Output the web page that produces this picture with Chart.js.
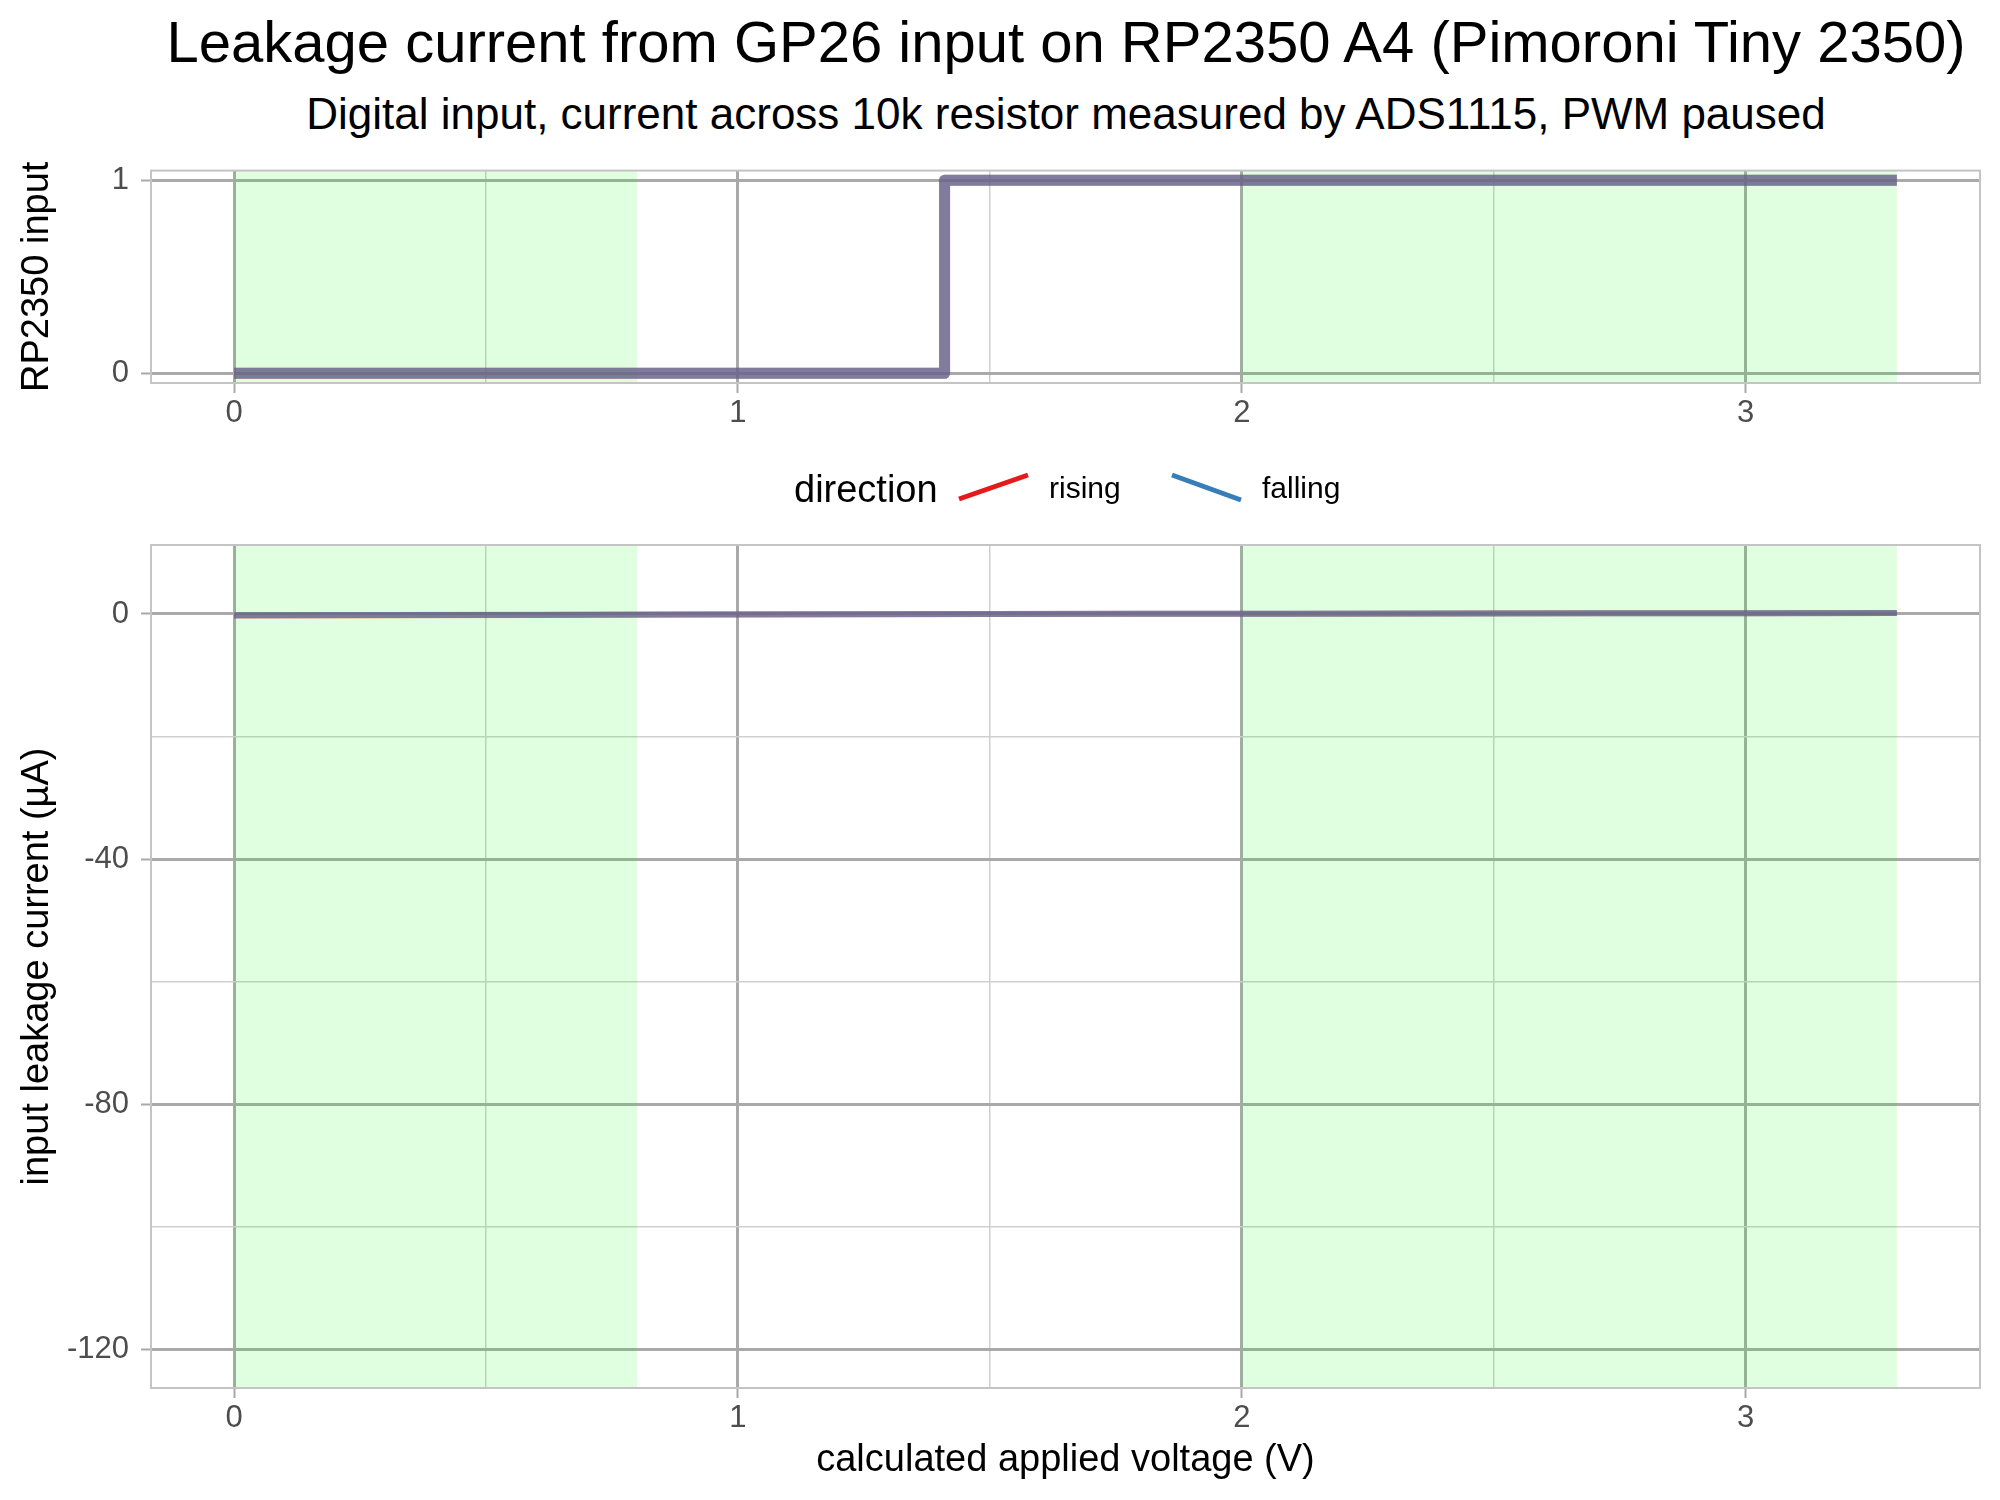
<!DOCTYPE html>
<html>
<head>
<meta charset="utf-8">
<title>Leakage current GP26 RP2350</title>
<script src="https://cdn.jsdelivr.net/npm/chart.js@4.4.1/dist/chart.umd.min.js"></script>
<style>
  body { margin: 0; background: #fff; font-family: "Liberation Sans", Arial, sans-serif; }
  #page { position: relative; width: 2000px; height: 1500px; overflow: hidden; }
  canvas { position: absolute; left: 0; }
  .txt { position: absolute; white-space: nowrap; color: #000; z-index: 2; }
  .key { position: absolute; z-index: 2; }
</style>
</head>
<body>
<div id="page">
  <div class="txt" style="left:152px; width:1828px; top:7px; font-size:58px; line-height:70px; text-align:center;">Leakage current from GP26 input on RP2350 A4 (Pimoroni Tiny 2350)</div>
  <div class="txt" style="left:152px; width:1828px; top:88px; font-size:44px; line-height:52px; text-align:center;">Digital input, current across 10k resistor measured by ADS1115, PWM paused</div>

  <canvas id="inputChart" width="2000" height="300" style="top:140px;"></canvas>
  <canvas id="leakChart" width="2000" height="1000" style="top:500px;"></canvas>

  <!-- legend -->
  <div class="txt" style="left:794px; top:466px; font-size:38px; line-height:46px;">direction</div>
  <svg class="key" style="left:950px; top:465px;" width="90" height="45">
    <line id="keyRising" x1="9" y1="34" x2="78" y2="10" stroke-width="5"/>
  </svg>
  <div class="txt" style="left:1049px; top:470px; font-size:30px; line-height:36px;">rising</div>
  <svg class="key" style="left:1163px; top:465px;" width="90" height="45">
    <line id="keyFalling" x1="9" y1="10" x2="78" y2="35" stroke-width="5"/>
  </svg>
  <div class="txt" style="left:1262px; top:470px; font-size:30px; line-height:36px;">falling</div>
</div>

<script>
// 데이터
const directions = ['rising', 'falling'];
const dirColors = ['#E41A1C', '#377EB8'];
const dirColorsAlpha = ['rgba(228, 26, 28, 0.6)', 'rgba(55, 126, 184, 0.6)'];

// 상단: 디지털 입력 상태
const stateVolts = [0, 0.4, 0.8, 1.2, 1.41, 1.8, 2.2, 2.6, 3.0, 3.3];
const risingState = [0, 0, 0, 0, 1, 1, 1, 1, 1, 1];
const fallingState = [0, 0, 0, 0, 1, 1, 1, 1, 1, 1];

// 하단: 누설 전류 (µA)
const sweepVolts = [0, 0.3, 0.6, 0.9, 1.2, 1.5, 1.8, 2.1, 2.4, 2.7, 3.0, 3.3];
const risingCurrent = [-0.25, -0.2, -0.15, -0.1, -0.06, -0.02, 0.02, 0.05, 0.08, 0.11, 0.13, 0.15];
const fallingCurrent = [-0.22, -0.18, -0.14, -0.1, -0.06, -0.02, 0.02, 0.05, 0.08, 0.1, 0.12, 0.14];

// 입력 임계 영역 (V_IL / V_IH)
const zones = [[0, 0.8], [2.0, 3.3]];

// 축 눈금
const xTicks = [0, 0.5, 1, 1.5, 2, 2.5, 3];
const inputTicks = [0, 1];
const leakTicks = [-120, -100, -80, -60, -40, -20, 0];
const xRange = [-0.165, 3.465];
const inputRange = [-0.05, 1.05];
const leakRange = [-126.25, 11.25];

const FONT = '"Liberation Sans", Arial, sans-serif';
const majorGrid = '#a9a9a9';
const minorGrid = '#d0d0d0';
const zoneFill = 'rgba(0, 255, 0, 0.12)';

document.getElementById('keyRising').setAttribute('stroke', dirColors[0]);
document.getElementById('keyFalling').setAttribute('stroke', dirColors[1]);

function toPoints(xs, ys) {
    return xs.map((v, i) => ({ x: v, y: ys[i] }));
}

// 녹색 영역 + 패널 테두리
const panelDecor = {
    id: 'panelDecor',
    beforeDatasetsDraw(chart) {
        const { ctx, chartArea, scales } = chart;
        ctx.save();
        ctx.fillStyle = zoneFill;
        zones.forEach(z => {
            const x0 = scales.x.getPixelForValue(z[0]);
            const x1 = scales.x.getPixelForValue(z[1]);
            ctx.fillRect(x0, chartArea.top, x1 - x0, chartArea.bottom - chartArea.top);
        });
        ctx.restore();
    },
    afterDraw(chart) {
        const { ctx, chartArea } = chart;
        ctx.save();
        ctx.strokeStyle = '#c4c4c4';
        ctx.lineWidth = 2;
        ctx.strokeRect(chartArea.left, chartArea.top, chartArea.right - chartArea.left, chartArea.bottom - chartArea.top);
        ctx.restore();
    }
};

function gridOpts(isMajor) {
    return {
        color: c => isMajor(c.tick.value) ? majorGrid : minorGrid,
        lineWidth: c => isMajor(c.tick.value) ? 3 : 1.5,
        tickColor: c => isMajor(c.tick.value) ? majorGrid : 'rgba(0,0,0,0)',
        tickWidth: 2,
        tickLength: 10,
        drawTicks: true
    };
}

function xScale(height, withTitle) {
    return {
        type: 'linear',
        min: xRange[0],
        max: xRange[1],
        afterBuildTicks: s => { s.ticks = xTicks.map(v => ({ value: v })); },
        afterFit: s => { s.height = height; },
        border: { display: false },
        grid: gridOpts(v => Number.isInteger(v)),
        ticks: {
            autoSkip: false,
            maxRotation: 0,
            padding: 2,
            color: '#4d4d4d',
            font: { family: FONT, size: 31, lineHeight: 1.2 },
            callback: v => Number.isInteger(v) ? String(v) : ''
        },
        title: {
            display: withTitle,
            text: 'calculated applied voltage (V)',
            color: '#000',
            font: { family: FONT, size: 38, lineHeight: 1.2 },
            padding: { top: 0, bottom: 17 }
        }
    };
}

function yScale(range, tickList, isMajor, titleText) {
    return {
        type: 'linear',
        min: range[0],
        max: range[1],
        afterBuildTicks: s => { s.ticks = tickList.map(v => ({ value: v })); },
        afterFit: s => { s.width = 151; },
        border: { display: false },
        grid: gridOpts(isMajor),
        ticks: {
            autoSkip: false,
            padding: 12,
            color: '#4d4d4d',
            font: { family: FONT, size: 31, lineHeight: 1.2 },
            callback: v => isMajor(v) ? String(v) : ''
        },
        title: {
            display: true,
            text: titleText,
            color: '#000',
            font: { family: FONT, size: 38, lineHeight: 1.2 },
            padding: { top: 15, bottom: 0 }
        }
    };
}

const commonPlugins = {
    legend: { display: false },
    tooltip: { enabled: false }
};

new Chart(document.getElementById('inputChart'), {
    type: 'line',
    data: {
        datasets: [
            {
                label: directions[0],
                data: toPoints(stateVolts, risingState),
                borderColor: dirColorsAlpha[0],
                borderWidth: 11,
                stepped: 'before',
                pointRadius: 0,
                borderJoinStyle: 'round',
                order: 1
            },
            {
                label: directions[1],
                data: toPoints(stateVolts, fallingState),
                borderColor: dirColorsAlpha[1],
                borderWidth: 11,
                stepped: 'before',
                pointRadius: 0,
                borderJoinStyle: 'round',
                order: 0
            }
        ]
    },
    options: {
        responsive: false,
        animation: false,
        layout: { padding: { top: 30, right: 20, left: 0, bottom: 0 } },
        plugins: commonPlugins,
        scales: {
            x: xScale(57, false),
            y: yScale(inputRange, inputTicks, v => true, 'RP2350 input')
        }
    },
    plugins: [panelDecor]
});

new Chart(document.getElementById('leakChart'), {
    type: 'line',
    data: {
        datasets: [
            {
                label: directions[0],
                data: toPoints(sweepVolts, risingCurrent),
                borderColor: dirColorsAlpha[0],
                borderWidth: 6,
                pointRadius: 0,
                order: 1
            },
            {
                label: directions[1],
                data: toPoints(sweepVolts, fallingCurrent),
                borderColor: dirColorsAlpha[1],
                borderWidth: 6,
                pointRadius: 0,
                order: 0
            }
        ]
    },
    options: {
        responsive: false,
        animation: false,
        layout: { padding: { top: 45, right: 20, left: 0, bottom: 0 } },
        plugins: commonPlugins,
        scales: {
            x: xScale(112, true),
            y: yScale(leakRange, leakTicks, v => v % 40 === 0, 'input leakage current (µA)')
        }
    },
    plugins: [panelDecor]
});
</script>
</body>
</html>
